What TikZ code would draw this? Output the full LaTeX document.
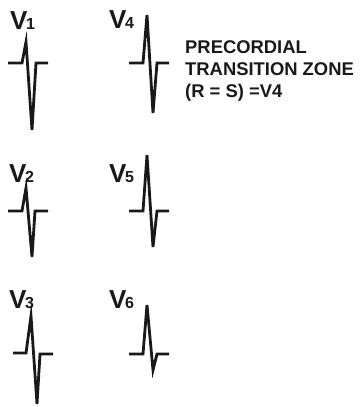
\documentclass[tikz,border=0pt]{standalone}
\usepackage{fontspec}
\setmainfont{Liberation Sans}
\newfontfamily\heavyfont{Liberation Sans Bold}
\usetikzlibrary{positioning}
\newcommand{\leadname}[1]{{\fontsize{26}{26}\selectfont\heavyfont V}\kern-1.5pt{\fontsize{16}{16}\selectfont\heavyfont #1}}

\begin{document}
\begin{tikzpicture}[x=1pt,y=-1pt,
      trace/.style={draw=black!90,line width=2.8pt,line join=miter},
      lead/.style={anchor=base west,inner sep=0pt,text=black!90},
      note/.style={anchor=north west,inner sep=0pt,align=left,text=black!90,
                   font=\heavyfont\fontsize{18.4}{22}\selectfont}]
    \useasboundingbox (0,0) rectangle (364,407);

    % lead labels
    \node[lead] (v1) at (10,29) {\leadname{1}};
    \node[lead] (v2) at (9,182) {\leadname{2}};
    \node[lead] (v3) at (9,308) {\leadname{3}};
    \node[lead] (v4) at (109,28) {\leadname{4}};
    \node[lead] (v5) at (109,182) {\leadname{5}};
    \node[lead] (v6) at (109,308) {\leadname{6}};

    % QRS complexes, left column
    \draw[trace] (8,63) -- (22,63) -- (26,42) -- (32,130) -- (36,63) -- (48,63);
    \draw[trace] (8,211) -- (22,211) -- (26,188) -- (32,257) -- (35,211) -- (48,211);
    \draw[trace] (13,353) -- (26,353) -- (31,316) -- (37,404) -- (40,354) -- (53,354);

    % QRS complexes, right column
    \draw[trace] (129,63) -- (143,63) -- (147,15) -- (153,113) -- (157,63) -- (169,63);
    \draw[trace] (129,211) -- (143,211) -- (147,155) -- (153,247) -- (157,211) -- (169,211);
    \draw[trace] (129,354) -- (143,354) -- (147,305) -- (153,370) -- (157,354) -- (169,354);

    \node[note] (zone) at (185,40) {PRECORDIAL\\TRANSITION ZONE\\(R = S) =V4};
  \end{tikzpicture}
\end{document}
